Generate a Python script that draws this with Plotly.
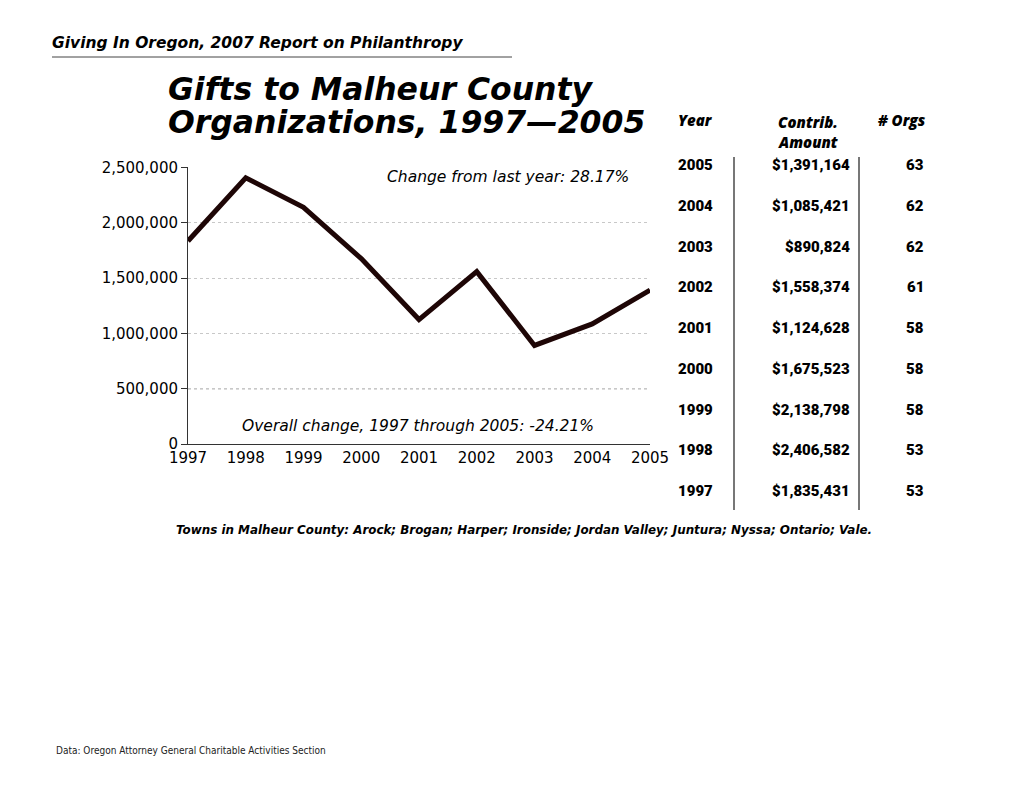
import plotly.graph_objects as go

years = [1997, 1998, 1999, 2000, 2001, 2002, 2003, 2004, 2005]
amounts = [1835431, 2406582, 2138798, 1675523, 1124628, 1558374, 890824, 1085421, 1391164]
orgs = [53, 53, 58, 58, 58, 61, 62, 62, 63]
y_ticks = [0, 500000, 1000000, 1500000, 2000000, 2500000]

OFF = 8  # page body margin
W, H = 1020 - 2 * OFF, 788 - 2 * OFF
L, R, T, B = 188 - OFF, 650 - OFF, 167 - OFF, 444 - OFF  # plot area in figure pixels

HEAVY = "Open Sans"
WIDE = "DejaVu Sans"


def px(x, y):
    x -= OFF
    y -= OFF
    return (x - L) / (R - L), (B - y) / (B - T)


fig = go.Figure()
fig.add_trace(go.Scatter(
    x=years, y=amounts, mode="lines",
    line=dict(color="#1e0606", width=5),
    hoverinfo="skip", showlegend=False,
))

fig.update_layout(
    width=W, height=H,
    margin=dict(l=L, r=W - R, t=T, b=H - B, pad=0),
    paper_bgcolor="white", plot_bgcolor="white",
    separators=".,",
    xaxis=dict(
        range=[1997, 2005], tickvals=years, ticktext=[str(y) for y in years],
        showgrid=False, zeroline=False, showline=True, linecolor="#333", linewidth=1,
        ticks="", tickfont=dict(family="DejaVu Sans", size=15, color="#000"),
        fixedrange=True,
    ),
    yaxis=dict(
        range=[0, 2504000], tickvals=y_ticks, tickformat=",d",
        showgrid=True, gridcolor="#c8c8c8", griddash="dot", gridwidth=1,
        zeroline=False, showline=True, linecolor="#333", linewidth=1,
        ticks="outside", ticklen=6, tickcolor="#333",
        tickfont=dict(family="DejaVu Sans", size=15, color="#000"),
        fixedrange=True,
    ),
)

# darker dotted reference at 500,000
fig.add_shape(type="line", xref="paper", yref="y", x0=0, x1=1, y0=y_ticks[1], y1=y_ticks[1],
              line=dict(color="#444", width=1, dash="dot"), layer="below")

annotations = []


def text(x, y, s, size, family=HEAVY, bold=True, italic=False, anchor="left", color="#000", weight=None):
    ax, ay = px(x, y)
    annotations.append(dict(
        x=ax, y=ay, xref="paper", yref="paper", text=s, showarrow=False,
        xanchor=anchor, yanchor="middle",
        font=dict(family=family, size=size, color=color,
                  weight=weight if weight else ("bold" if bold else "normal"),
                  style="italic" if italic else "normal"),
    ))


# header
text(50, 43, "Giving In Oregon, 2007 Report on Philanthropy", 15.5, family=WIDE, italic=True, weight="bold")
fig.add_shape(type="line", xref="paper", yref="paper",
              x0=px(52, 57)[0], x1=px(512, 57)[0], y0=px(52, 57)[1], y1=px(52, 57)[1],
              line=dict(color="#444", width=1))

# title
text(166, 89, "Gifts to Malheur County", 31.5, family=WIDE, italic=True, weight="bold")
text(166, 122, "Organizations, 1997\u20142005", 31.5, family=WIDE, italic=True, weight="bold")

# in-chart notes
text(508, 177, "Change from last year: 28.17%", 15.5, family="DejaVu Sans", bold=False, italic=True, anchor="center")
text(418, 426, "Overall change, 1997 through 2005: -24.21%", 15.5, family="DejaVu Sans", bold=False, italic=True, anchor="center")

# table headers
text(676, 120, "Year", 15, italic=True, weight=800)
text(840, 122, "Contrib.", 15, italic=True, weight=800, anchor="right")
text(840, 142, "Amount", 15, italic=True, weight=800, anchor="right")
text(928, 120, "# Orgs", 15, italic=True, weight=800, anchor="right")

# table rows (2005 first)
row_y0, row_dy = 165, 40.75
for i, (yr, amt, n) in enumerate(zip(reversed(years), reversed(amounts), reversed(orgs))):
    yy = row_y0 + i * row_dy
    text(676, yy, str(yr), 15, family="Roboto", weight=900)
    text(852, yy, "${:,}".format(amt), 15, family="Roboto", weight=900, anchor="right")
    text(926, yy, str(n), 15, family="Roboto", weight=900, anchor="right")

for xv in (734, 859):
    x0, y0 = px(xv, 157)
    _, y1 = px(xv, 510)
    fig.add_shape(type="line", xref="paper", yref="paper", x0=x0, x1=x0, y0=y0, y1=y1,
                  line=dict(color="#777", width=2))

# footnotes
text(174, 530, "Towns in Malheur County: Arock; Brogan; Harper; Ironside; Jordan Valley; Juntura; Nyssa; Ontario; Vale.",
     11.9, family=WIDE, italic=True, weight="bold")
text(54, 751, "Data: Oregon Attorney General Charitable Activities Section", 10,
     family="DejaVu Sans Condensed, Roboto", bold=False, color="#222")

fig.update_layout(annotations=annotations)
fig.write_html("out.html")
